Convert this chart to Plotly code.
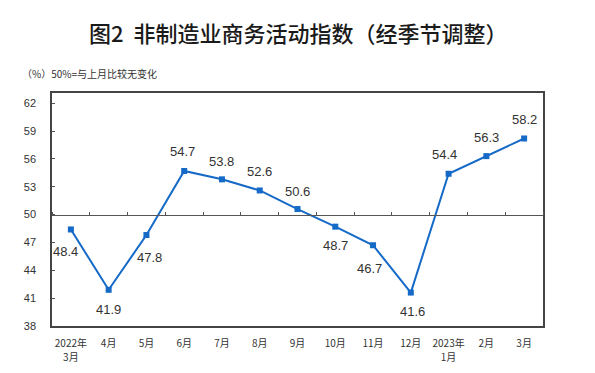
import plotly.graph_objects as go

categories = ["2022年3月", "4月", "5月", "6月", "7月", "8月", "9月", "10月", "11月", "12月", "2023年1月", "2月", "3月"]
tick_line1 = ["2022年", "4月", "5月", "6月", "7月", "8月", "9月", "10月", "11月", "12月", "2023年", "2月", "3月"]
tick_line2 = ["3月", "", "", "", "", "", "", "", "", "", "1月", "", ""]
values = [48.4, 41.9, 47.8, 54.7, 53.8, 52.6, 50.6, 48.7, 46.7, 41.6, 54.4, 56.3, 58.2]
y_ticks = [38, 41, 44, 47, 50, 53, 56, 59, 62]

# label placement: (xshift, yshift) per point
label_shift = [(-5, -22), (0, -20), (3, -22), (-2, 19), (0, 18), (0, 19), (0, 18),
               (0, -19), (-4, -23), (2, -19), (-4, 19), (0, 19), (0, 19)]

Y_MIN, Y_MAX = 38, 63.1
BASE = 50

fig = go.Figure()
fig.add_trace(go.Scatter(
    x=categories, y=values, mode="lines+markers",
    line=dict(color="#1569C7", width=2),
    marker=dict(symbol="square", size=6, color="#1569C7"),
    xaxis="x", yaxis="y", showlegend=False, hoverinfo="skip",
))

for c, v, (dx, dy) in zip(categories, values, label_shift):
    fig.add_annotation(x=c, y=v, text=f"{v:.1f}", showarrow=False,
                       xshift=dx, yshift=dy,
                       font=dict(family="Liberation Sans, Arial", size=13, color="#333333"))

base_pos = (BASE - Y_MIN) / (Y_MAX - Y_MIN)
tick_font = dict(family="Noto Sans CJK SC, Liberation Sans", size=10, color="#333333")

fig.update_layout(
    width=595, height=373,
    margin=dict(l=52, r=52, t=93, b=47),
    paper_bgcolor="white", plot_bgcolor="white",
    xaxis=dict(
        type="category", categoryorder="array", categoryarray=categories,
        range=[-0.5, len(categories) - 0.5], automargin=False,
        tickmode="array", tickvals=categories, ticktext=tick_line1,
        showline=True, linecolor="#444444", linewidth=1.5, mirror=True,
        showgrid=False, zeroline=False, ticks="",
        tickfont=tick_font, ticklabelstandoff=7,
    ),
    xaxis2=dict(
        type="category", overlaying="x", matches="x", anchor="free", position=base_pos,
        side="top", showline=True, linecolor="#555555", linewidth=1, automargin=False,
        ticks="outside", ticklen=3, tickcolor="#555555", tickson="boundaries",
        showticklabels=False, showgrid=False, zeroline=False,
    ),
    xaxis3=dict(
        type="category", overlaying="x", matches="x", anchor="y", side="bottom",
        tickmode="array", tickvals=categories, ticktext=tick_line2,
        showline=False, showgrid=False, zeroline=False, ticks="", automargin=False,
        tickfont=tick_font, ticklabelstandoff=24,
    ),
    yaxis=dict(
        range=[Y_MIN, Y_MAX], tickvals=y_ticks, ticktext=[str(t) for t in y_ticks],
        showline=True, linecolor="#444444", linewidth=1.5, mirror=True, automargin=False,
        showgrid=False, zeroline=False, ticks="inside", ticklen=3, tickcolor="#555555",
        tickfont=dict(family="Liberation Sans, Arial", size=11, color="#333333"),
        ticklabelstandoff=12,
    ),
    showlegend=False,
)

for ax in ("x2", "x3"):
    fig.add_trace(go.Scatter(x=categories, y=[None] * len(categories), xaxis=ax, yaxis="y",
                             showlegend=False, hoverinfo="skip"))

fig.add_annotation(text="图2  非制造业商务活动指数（经季节调整）", xref="paper", yref="paper",
                   x=0.5, y=1, yshift=61, xanchor="center", yanchor="middle", showarrow=False,
                   font=dict(family="Noto Sans CJK SC Medium, Noto Sans CJK SC", size=22, color="#1a1a1a"))
fig.add_annotation(text="（%）50%=与上月比较无变化", xref="paper", yref="paper",
                   x=0, y=1, xshift=-32, yshift=20, xanchor="left", yanchor="middle", showarrow=False,
                   font=dict(family="Noto Sans CJK SC", size=10, color="#333333"))

fig.write_html("out.html", config={"displayModeBar": False},
               post_script="document.body.style.margin='0';")
